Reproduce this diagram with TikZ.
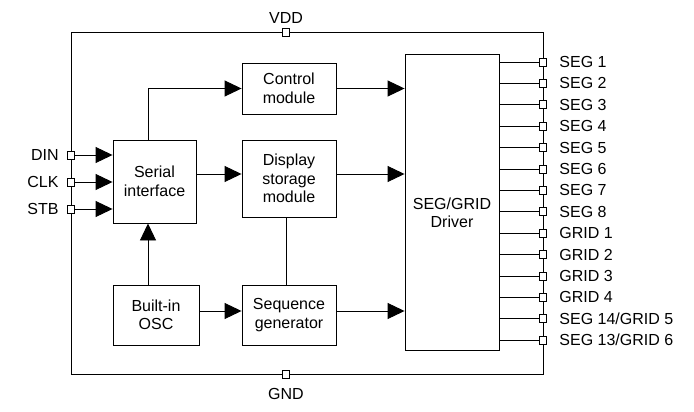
\documentclass[tikz,border=0pt]{standalone}
\usepackage{fontspec}
\setmainfont{Liberation Sans}
\usetikzlibrary{arrows.meta, positioning, calc}

\begin{document}
\begin{tikzpicture}[x=1pt, y=-1pt, font=\fontsize{16}{18.5}\selectfont]
    \tikzstyle{block} = [rectangle, draw=black, line width=0.9pt, align=center, inner sep=0pt]
    \tikzstyle{pinbox} = [rectangle, draw=black, fill=white, line width=0.8pt, minimum width=7pt, minimum height=8pt, inner sep=0pt]
    \tikzstyle{arrow} = [line width=0.9pt, -{Triangle[length=17pt, width=16pt]}]
    \tikzstyle{wire} = [line width=0.9pt]
    \useasboundingbox (0,0) rectangle (694,412);
    % chip outline
    \draw [wire] (71,32) rectangle (543,374);
    \node (vdd) [pinbox] at (286,32) {};
    \node (gnd) [pinbox] at (286,374) {};
    \node (vddlbl) [above=1pt of vdd] {VDD};
    \node (gndlbl) [below=6pt of gnd] {GND};
    % blocks
    \node (serial) [block, minimum width=83pt, minimum height=83pt] at (154.5,181.5) {Serial\\interface};
    \node (control) [block, minimum width=94pt, minimum height=51pt] at (289,88.5) {Control\\module};
    \node (display) [block, minimum width=94pt, minimum height=77pt] at (289,178.5) {Display\\storage\\module};
    \node (osc) [block, minimum width=86pt, minimum height=60pt] at (156,315) {Built-in\\OSC};
    \node (seq) [block, minimum width=94pt, minimum height=60pt] at (289,315) {Sequence\\generator};
    \node (driver) [block, minimum width=94pt, minimum height=296pt,
        label={[align=center, yshift=-11pt]center:{SEG/GRID\\Driver}}] at (452,202) {};
    % input pins
    \foreach \lbl/\y in {DIN/155, CLK/182, STB/209} {
        \node (in\lbl) [pinbox] at (71,\y) {};
        \node [left=5pt of in\lbl] {\lbl};
        \draw [arrow] (in\lbl) -- (in\lbl -| serial.west);
    }
    % output pins
    \foreach \lbl [count=\i] in {SEG 1, SEG 2, SEG 3, SEG 4, SEG 5, SEG 6, SEG 7, SEG 8,
        GRID 1, GRID 2, GRID 3, GRID 4, {SEG 14/GRID 5}, {SEG 13/GRID 6}} {
        \node (out\i) [pinbox] at (543,{62+(\i-1)*21.4}) {};
        \draw [wire] (out\i -| driver.east) -- (out\i);
        \node [right=9pt of out\i] {\lbl};
    }
    % connections
    \draw [arrow] ([xshift=-6.5pt]serial.north) |- (control.west);
    \draw [arrow] ([yshift=7.5pt]serial.east) -- ([yshift=4.5pt]display.west);
    \draw [arrow] ([xshift=-8pt]osc.north) -- ([xshift=-6.5pt]serial.south);
    \draw [arrow] ([yshift=4pt]osc.east) -- ([yshift=4pt]seq.west);
    \draw [wire] ([xshift=-3pt]display.south) -- ([xshift=-3pt]seq.north);
    \draw [arrow] (control.east) -- (control.east -| driver.west);
    \draw [arrow] ([yshift=4.5pt]display.east) -- ([yshift=4.5pt]display.east -| driver.west);
    \draw [arrow] ([yshift=4pt]seq.east) -- ([yshift=4pt]seq.east -| driver.west);
\end{tikzpicture}
\end{document}
